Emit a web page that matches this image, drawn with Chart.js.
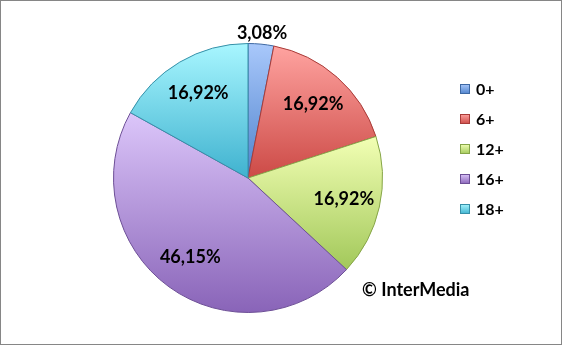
<!DOCTYPE html>
<html>
<head>
<meta charset="utf-8">
<script src="https://cdn.jsdelivr.net/npm/chart.js@4.4.1/dist/chart.umd.min.js"></script>
<style>
  html, body { margin: 0; padding: 0; background: #fff; }
  #wrap { position: relative; width: 562px; height: 345px; }
</style>
</head>
<body>
<div id="wrap"><canvas id="c"></canvas></div>
<script>
// ---- data ----
const categories = ['0+', '6+', '12+', '16+', '18+'];
const shares = [3.08, 16.92, 16.92, 46.15, 16.92];
const valueLabels = ['3,08%', '16,92%', '16,92%', '46,15%', '16,92%'];
const copyrightText = '© InterMedia';

// ---- styles ----
const lightColors = ['#a9c8fb', '#ffa3a0', '#f2ffb4', '#dcc6fa', '#a8f6ff'];
const darkColors  = ['#4f83cc', '#cc4a46', '#a2c85a', '#8964b8', '#3fb2cf'];
const edgeColors  = ['#3d68a3', '#a83b38', '#86a548', '#6d4f96', '#3690a8'];
const FONT = 'Lato, "Liberation Sans", sans-serif';

function pieGeom(chart) {
  const a = chart.chartArea;
  const cx = (a.left + a.right) / 2, cy = (a.top + a.bottom) / 2;
  const meta = chart.getDatasetMeta(0);
  let R = Math.min(a.right - a.left, a.bottom - a.top) / 2;
  if (meta && meta.data && meta.data[0] && meta.data[0].outerRadius) R = meta.data[0].outerRadius;
  return {cx, cy, R};
}
function sliceAngles(i) {
  const total = shares.reduce((s, v) => s + v, 0);
  let start = 0;
  for (let k = 0; k < i; k++) start += shares[k] / total * 360;
  return [start, start + shares[i] / total * 360];
}
function sliceGradient(context) {
  const chart = context.chart;
  const i = context.dataIndex;
  if (!chart.chartArea || i === undefined) return lightColors[i || 0];
  const {cx, cy, R} = pieGeom(chart);
  const [s, e] = sliceAngles(i);
  const ys = [cy, cy - R * Math.cos(s * Math.PI / 180), cy - R * Math.cos(e * Math.PI / 180)];
  if (s <= 0 || e >= 360) ys.push(cy - R);
  if (s <= 180 && e >= 180) ys.push(cy + R);
  const y0 = Math.min(...ys), y1 = Math.max(...ys);
  const g = chart.ctx.createLinearGradient(0, y0, 0, y1);
  g.addColorStop(0, lightColors[i]);
  g.addColorStop(1, darkColors[i]);
  return g;
}

const overlay = {
  id: 'overlay',
  afterDatasetsDraw(chart) {
    const ctx = chart.ctx;
    const {cx, cy, R} = pieGeom(chart);
    ctx.save();
    ctx.fillStyle = '#000';
    ctx.textAlign = 'center';
    ctx.textBaseline = 'middle';
    ctx.font = 'bold 18px ' + FONT;
    shares.forEach((v, i) => {
      const [s, e] = sliceAngles(i);
      const mid = (s + e) / 2 * Math.PI / 180;
      const r = v < 5 ? R * 1.08 : R * 0.73;
      ctx.fillText(valueLabels[i], cx + r * Math.sin(mid), cy - r * Math.cos(mid));
    });
    // legend
    const lx = 460, ly0 = 89, step = 30;
    ctx.textAlign = 'left';
    ctx.font = 'bold 16px ' + FONT;
    categories.forEach((c, i) => {
      const y = ly0 + i * step;
      const g = ctx.createLinearGradient(0, y - 5, 0, y + 5);
      g.addColorStop(0, lightColors[i]);
      g.addColorStop(1, darkColors[i]);
      ctx.fillStyle = g;
      ctx.fillRect(lx, y - 5, 10, 10);
      ctx.strokeStyle = edgeColors[i];
      ctx.lineWidth = 1;
      ctx.strokeRect(lx + 0.5, y - 4.5, 9, 9);
      ctx.fillStyle = '#000';
      ctx.fillText(c, lx + 16, y + 1);
    });
    // copyright
    ctx.font = 'bold 18px ' + FONT;
    ctx.fillText(copyrightText, 362, 290);
    // outer frame
    ctx.strokeStyle = '#868686';
    ctx.lineWidth = 1;
    ctx.strokeRect(0.5, 0.5, chart.width - 1, chart.height - 1);
    ctx.restore();
  }
};

new Chart(document.getElementById('c'), {
  type: 'pie',
  data: {
    labels: categories,
    datasets: [{
      data: shares,
      backgroundColor: sliceGradient,
      borderColor: (c) => edgeColors[c.dataIndex] || '#888',
      borderWidth: 1,
      hoverOffset: 0,
      offset: 0
    }]
  },
  options: {
    responsive: true,
    maintainAspectRatio: false,
    animation: false,
    events: [],
    layout: { padding: { left: 113, right: 179, top: 43, bottom: 32 } },
    plugins: { legend: { display: false }, tooltip: { enabled: false } }
  },
  plugins: [overlay]
});
</script>
</body>
</html>
